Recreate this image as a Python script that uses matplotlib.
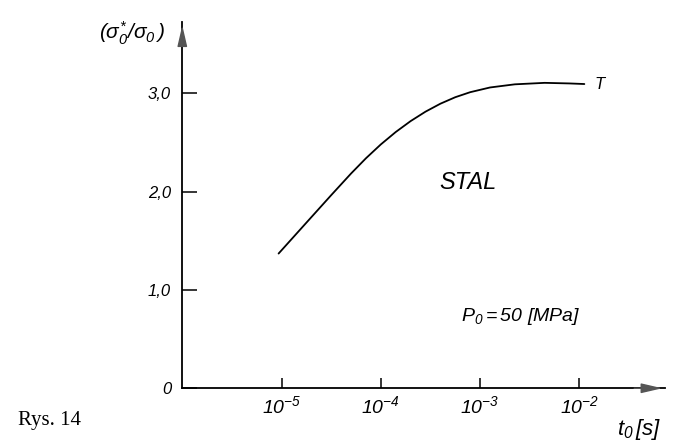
import numpy as np
import matplotlib.pyplot as plt

plt.rcParams["font.family"] = ["Liberation Sans", "DejaVu Sans"]
plt.rcParams["mathtext.fontset"] = "custom"
plt.rcParams["mathtext.rm"] = "Liberation Sans:italic"
plt.rcParams["mathtext.it"] = "Liberation Sans:italic"
plt.rcParams["mathtext.default"] = "it"

# curve T for steel (log10 of t0, stress ratio)
log_t = [-5.03, -4.75, -4.50, -4.30, -4.15, -4.00, -3.85, -3.70, -3.55, -3.40,
         -3.25, -3.10, -2.90, -2.65, -2.35, -2.10, -1.95]
ratio = [1.37, 1.684, 1.964, 2.184, 2.339, 2.48, 2.606, 2.717, 2.813, 2.894,
         2.96, 3.011, 3.059, 3.091, 3.106, 3.10, 3.094]

y_ticks = [0, 1.0, 2.0, 3.0]
y_labels = ["0", "1,0", "2,0", "3,0"]
x_ticks = [-5, -4, -3, -2]
x_labels = [r"$10^{-5}$", r"$10^{-4}$", r"$10^{-3}$", r"$10^{-2}$"]

fig = plt.figure(figsize=(6.82, 4.45), dpi=100)
ax = fig.add_axes([0.2673, 0.1275, 0.708, 0.822])

ax.plot(log_t, ratio, color="black", lw=1.3, solid_capstyle="round",
        solid_joinstyle="round")

ax.set_xlim(-6, -1.136)
ax.set_ylim(0, 3.72)

for s in ["top", "right"]:
    ax.spines[s].set_visible(False)
for s in ["left", "bottom"]:
    ax.spines[s].set_linewidth(1.3)

ax.set_yticks(y_ticks)
ax.set_yticklabels(y_labels, fontsize=12, style="italic")
ax.set_xticks(x_ticks)
ax.set_xticklabels(x_labels, fontsize=14)
ax.tick_params(axis="y", direction="in", length=11, width=1.1, pad=8)
ax.tick_params(axis="x", direction="in", length=7, width=1.1, pad=5)

# arrow heads on both axes
ax.annotate("", xy=(1.0, 0), xytext=(0.93, 0), xycoords="axes fraction",
            arrowprops=dict(arrowstyle="-|>,head_length=1.3,head_width=0.3",
                            color="#555555", lw=1.0))
ax.annotate("", xy=(0, 1.0), xytext=(0, 0.94), xycoords="axes fraction",
            arrowprops=dict(arrowstyle="-|>,head_length=1.3,head_width=0.3",
                            color="#555555", lw=1.0))

fig.text(0.193, 0.925, r"$(\sigma_0^{*}/\sigma_0\,)$", fontsize=15, ha="center", va="center")
fig.text(0.938, 0.035, r"$t_0\,[s]$", fontsize=16, ha="center", va="center")
ax.text(-1.80, 3.09, "T", fontsize=12, style="italic", ha="center", va="center")
ax.text(-3.12, 2.09, "STAL", fontsize=17, style="italic", ha="center", va="center")
ax.text(-2.59, 0.725, r"$P_0 = 50\ [MPa]$", fontsize=14, ha="center", va="center")
fig.text(0.073, 0.056, "Rys. 14", fontsize=15, family="Liberation Serif", ha="center", va="center")

fig.savefig("out.png", dpi=100)
